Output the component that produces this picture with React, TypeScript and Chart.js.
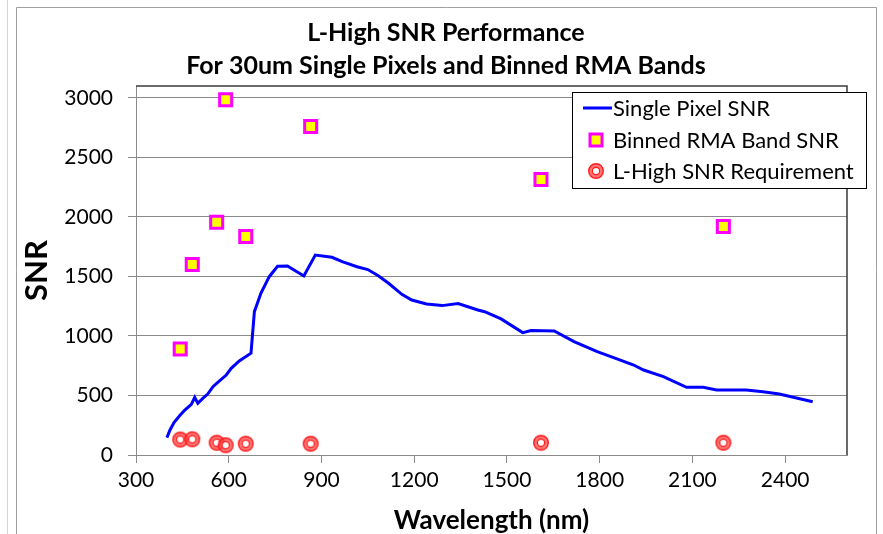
import React, { useEffect, useRef } from "react";
import { Chart, registerables } from "chart.js";

Chart.register(...registerables);

// ---- data ----
const lineWavelengths = [400, 410, 423, 441, 458, 479, 490, 500, 516, 532, 549, 570, 592, 608, 634, 672, 683, 704, 731, 758, 790, 843, 880, 934, 967, 1015, 1050, 1085, 1117, 1160, 1192, 1240, 1290, 1342, 1406, 1428, 1481, 1551, 1578, 1653, 1717, 1792, 1856, 1910, 1942, 2006, 2081, 2135, 2178, 2274, 2328, 2381, 2489];
const lineSNR = [146, 210, 272, 330, 378, 426, 485, 434, 476, 512, 574, 622, 672, 728, 790, 855, 1204, 1359, 1498, 1585, 1588, 1504, 1680, 1661, 1624, 1582, 1558, 1504, 1443, 1350, 1302, 1269, 1255, 1272, 1218, 1204, 1143, 1028, 1045, 1042, 952, 868, 807, 756, 714, 658, 569, 569, 546, 546, 532, 513, 448];

const bandWavelengths = [443, 482, 561, 590, 655, 865, 1610, 2200];
const bandSNR = [890, 1600, 1955, 2985, 1835, 2760, 2315, 1920];

const reqWavelengths = [443, 482, 561, 590, 655, 865, 1610, 2200];
const reqSNR = [130, 132, 103, 82, 95, 95, 103, 103];

const xTicks = [300, 600, 900, 1200, 1500, 1800, 2100, 2400];
const yTicks = [0, 500, 1000, 1500, 2000, 2500, 3000];

const titleLines = ["L-High SNR Performance", "For 30um Single Pixels and Binned RMA Bands"];
const seriesNames = ["Single Pixel SNR", "Binned RMA Band SNR", "L-High SNR Requirement"];
const xTitle = "Wavelength (nm)";
const yTitle = "SNR";

const FONT = "Lato, 'Open Sans', sans-serif";
const GRID = "#8a8a8a";

function makeRingMarker(): HTMLCanvasElement {
  const c = document.createElement("canvas");
  c.width = 18;
  c.height = 18;
  const g = c.getContext("2d")!;
  g.beginPath();
  g.arc(9, 9, 7.3, 0, Math.PI * 2);
  g.fillStyle = "rgba(255,70,70,0.75)";
  g.fill();
  g.lineWidth = 1.4;
  g.strokeStyle = "rgba(255,20,20,0.95)";
  g.stroke();
  g.beginPath();
  g.arc(9, 9, 3.6, 0, Math.PI * 2);
  g.fillStyle = "#ffffff";
  g.fill();
  g.lineWidth = 1.2;
  g.strokeStyle = "rgba(255,20,20,0.95)";
  g.stroke();
  return c;
}

export default function App() {
  const ref = useRef<HTMLCanvasElement | null>(null);

  useEffect(() => {
    if (!ref.current) return;
    const ring = makeRingMarker();

    const framePlugin = {
      id: "frame",
      beforeDraw(chart: any) {
        const ctx = chart.ctx;
        ctx.save();
        ctx.fillStyle = "#ffffff";
        ctx.fillRect(0, 0, chart.width, chart.height);
        ctx.strokeStyle = "#d4d4d4";
        ctx.lineWidth = 1;
        ctx.beginPath();
        ctx.moveTo(7.5, 0);
        ctx.lineTo(7.5, chart.height);
        ctx.stroke();
        ctx.strokeStyle = "#a0a0a0";
        ctx.beginPath();
        ctx.moveTo(16.5, chart.height);
        ctx.lineTo(16.5, 7.5);
        ctx.lineTo(876.5, 7.5);
        ctx.lineTo(876.5, chart.height);
        ctx.stroke();
        ctx.restore();
      },
      afterDraw(chart: any) {
        const ctx = chart.ctx;
        const a = chart.chartArea;
        ctx.save();
        ctx.strokeStyle = "#3a3a3a";
        ctx.lineWidth = 1.5;
        ctx.beginPath();
        ctx.moveTo(a.left, a.top);
        ctx.lineTo(a.right, a.top);
        ctx.lineTo(a.right, a.bottom);
        ctx.stroke();

        // legend box
        const lx = 572, ly = 92, lw = 294, lh = 96;
        ctx.fillStyle = "#ffffff";
        ctx.fillRect(lx, ly, lw, lh);
        ctx.strokeStyle = "#000000";
        ctx.lineWidth = 1;
        ctx.strokeRect(lx + 0.5, ly + 0.5, lw, lh);
        const rows = [108, 140, 171];
        const ds = chart.data.datasets;
        ctx.font = `22px ${FONT}`;
        ctx.textBaseline = "middle";
        ctx.textAlign = "left";
        // line sample
        ctx.strokeStyle = ds[0].borderColor;
        ctx.lineWidth = 3;
        ctx.beginPath();
        ctx.moveTo(583, rows[0]);
        ctx.lineTo(612, rows[0]);
        ctx.stroke();
        // square sample
        ctx.fillStyle = ds[1].backgroundColor;
        ctx.strokeStyle = ds[1].borderColor;
        ctx.lineWidth = 3;
        ctx.fillRect(590, rows[1] - 6, 12, 12);
        ctx.strokeRect(590, rows[1] - 6, 12, 12);
        // ring sample
        ctx.drawImage(ring, 596 - 9, rows[2] - 9);
        ctx.fillStyle = "#000000";
        seriesNames.forEach((n, i) => ctx.fillText(n, 613, rows[i] + 1));
        ctx.restore();
      },
    };

    const chart = new Chart(ref.current, {
      type: "scatter",
      data: {
        datasets: [
          {
            label: seriesNames[0],
            data: lineWavelengths.map((x, i) => ({ x, y: lineSNR[i] })),
            showLine: true,
            borderColor: "#0000ff",
            backgroundColor: "#0000ff",
            borderWidth: 3,
            pointRadius: 0,
            tension: 0,
            order: 0,
          },
          {
            label: seriesNames[1],
            data: bandWavelengths.map((x, i) => ({ x, y: bandSNR[i] })),
            pointStyle: "rect",
            pointRadius: 8.5,
            backgroundColor: "#ffff00",
            borderColor: "#ff00ff",
            borderWidth: 3,
            order: 1,
          },
          {
            label: seriesNames[2],
            data: reqWavelengths.map((x, i) => ({ x, y: reqSNR[i] })),
            pointStyle: ring as any,
            pointRadius: 8,
            backgroundColor: "rgba(255,60,60,0.7)",
            borderColor: "#ff2020",
            order: 2,
          },
        ],
      },
      options: {
        responsive: false,
        animation: false,
        devicePixelRatio: 1,
        layout: { padding: { left: 16, right: 7, top: 0, bottom: 0 } },
        plugins: {
          legend: { display: false },
          tooltip: { enabled: false },
          title: {
            display: true,
            text: titleLines,
            color: "#000000",
            font: { family: FONT, size: 25, weight: "bold", lineHeight: 1.32 },
            padding: { top: 16.5, bottom: 3.5 },
          },
        },
        scales: {
          x: {
            type: "linear",
            min: 300,
            max: 2600,
            afterBuildTicks: (s: any) => {
              s.ticks = xTicks.map((v) => ({ value: v }));
            },
            afterFit: (s: any) => {
              s.height = 79;
            },
            grid: { drawOnChartArea: false, drawTicks: true, tickLength: 8, tickColor: GRID },
            border: { display: true, color: GRID, width: 1 },
            ticks: {
              color: "#000000",
              font: { family: FONT, size: 21 },
              padding: 5,
              maxRotation: 0,
              callback: (v: any) => String(v),
            },
            title: {
              display: true,
              text: xTitle,
              color: "#000000",
              font: { family: FONT, size: 26, weight: "bold", lineHeight: 1.0 },
              padding: { top: 0, bottom: 0 },
            },
          },
          y: {
            type: "linear",
            min: 0,
            max: 3100,
            afterBuildTicks: (s: any) => {
              s.ticks = yTicks.map((v) => ({ value: v }));
            },
            afterFit: (s: any) => {
              s.width = 120;
            },
            grid: { color: GRID, drawTicks: true, tickLength: 8, tickColor: GRID },
            border: { display: true, color: GRID, width: 1 },
            ticks: {
              color: "#000000",
              font: { family: FONT, size: 21 },
              padding: 15,
              callback: (v: any) => String(v),
            },
            title: {
              display: true,
              text: yTitle,
              color: "#000000",
              font: { family: FONT, size: 31, weight: "bold", lineHeight: 1.2 },
              padding: { top: 2.4, bottom: 0 },
            },
          },
          y2: {
            type: "linear",
            position: "right",
            display: true,
            afterFit: (s: any) => {
              s.width = 29;
            },
            grid: { display: false, drawTicks: false },
            border: { display: false },
            ticks: { display: false },
          },
        },
      },
      plugins: [framePlugin],
    });

    return () => chart.destroy();
  }, []);

  return (
    <div style={{ position: "fixed", left: 0, top: 0, width: 883, height: 534, background: "#fff" }}>
      <canvas ref={ref} width={883} height={534} style={{ width: 883, height: 534, display: "block" }} />
    </div>
  );
}
